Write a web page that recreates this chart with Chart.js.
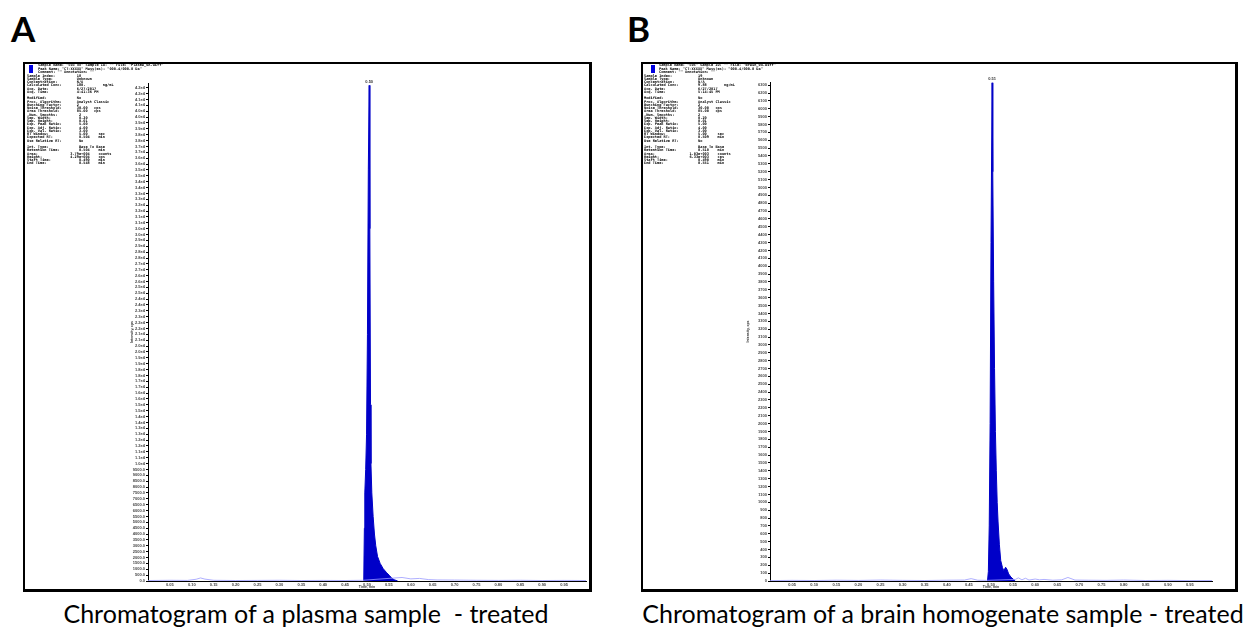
<!DOCTYPE html>
<html><head><meta charset="utf-8">
<script src="https://cdn.jsdelivr.net/npm/chart.js@4.4.0/dist/chart.umd.min.js"></script>
<style>
html,body{margin:0;padding:0;background:#fff;width:1246px;height:627px;overflow:hidden;position:relative;font-family:Lato,"Open Sans",sans-serif}
.panel{position:absolute;box-sizing:border-box;border:2px solid #000;border-right-width:3px;border-bottom-width:3px;background:#fff}
.panel canvas{position:absolute;left:0;top:0}
.hdr{position:absolute;margin:0;font-family:"DejaVu Sans Mono","Liberation Mono",monospace;font-weight:bold;font-size:3.6px;line-height:3.25px;color:#000;white-space:pre}
.mark{position:absolute;background:#0000e0}
.letter{position:absolute;font-weight:bold;font-size:35px;line-height:1;color:#000}
.cap{position:absolute;font-size:25px;line-height:1;color:#000;white-space:pre;text-align:center}
</style></head><body>

<div class="letter" style="left:11px;top:11px">A</div>
<div class="letter" style="left:627px;top:11px">B</div>

<div class="panel" id="pA" style="left:23px;top:62px;width:569px;height:530px">
<canvas id="cA" width="564" height="525"></canvas>
<div class="mark" style="left:4px;top:1px;width:4px;height:8px"></div>
<pre class="hdr" style="left:13px;top:0.4px">Sample Name: "S03 xx" Sample ID: "" File: "Plasma_0A.wiff"
Peak Name: "CT-XXXXX" Mass(es): "000.4/000.0 Da"
Comment: "" Annotation: ""</pre>
<pre class="hdr" style="left:2px;top:10.7px">Sample Index:          18
Sample Type:           Unknown
Concentration:         N/A
Calculated Conc:       180.        ng/mL
Acq. Date:             6/27/2017
Acq. Time:             4:41:36 PM

Modified:              No
Proc. Algorithm:       Analyst Classic
Bunching Factor:       2
Noise Threshold:       30.00   cps
Area Threshold:        85.00   cps
.Num. Smooths:          2
Sep. Width:             0.20
Sep. Height:            0.01
Exp. Peak Ratio:        5.00
Exp. Adj. Ratio:        4.00
Exp. Val. Ratio:        3.00
RT Window:              5.00     sec
Expected RT:            0.504    min
Use Relative RT:        No

Int. Type:              Base To Base
Retention Time:         0.504    min
Area:               3.79e+004    counts
Height:             4.29e+004    cps
Start Time:             0.490    min
End Time:               0.548    min</pre>
</div>

<div class="panel" id="pB" style="left:641px;top:62px;width:597px;height:530px">
<canvas id="cB" width="592" height="525"></canvas>
<div class="mark" style="left:8px;top:1px;width:4px;height:8px"></div>
<pre class="hdr" style="left:16px;top:0.4px">Sample Name: "S05" Sample ID: "" File: "Brain_0A.wiff"
Peak Name: "CT-XXXXX" Mass(es): "000.4/000.0 Da"
Comment: "" Annotation: ""</pre>
<pre class="hdr" style="left:1px;top:10.7px">Sample Index:            19
Sample Type:             Unknown
Concentration:           N/A
Calculated Conc:         9.88        ng/mL
Acq. Date:               6/27/2017
Acq. Time:               5:14:45 PM

Modified:                No
Proc. Algorithm:         Analyst Classic
Bunching Factor:         2
Noise Threshold:         30.00   cps
Area Threshold:          85.00   cps
.Num. Smooths:           2
Sep. Width:              0.20
Sep. Height:             0.01
Exp. Peak Ratio:         5.00
Exp. Adj. Ratio:         4.00
Exp. Val. Ratio:         3.00
RT Window:               5.00     sec
Expected RT:             0.509    min
Use Relative RT:         No

Int. Type:               Base To Base
Retention Time:          0.510    min
Area:                1.03e+003    counts
Height:              6.33e+003    cps
Start Time:              0.490    min
End Time:                0.551    min</pre>
</div>

<div class="cap" style="left:0px;top:601px;width:612px">Chromatogram of a plasma sample  - treated</div>
<div class="cap" style="left:636px;top:601px;width:614px">Chromatogram of a brain homogenate sample - treated</div>

<script>
// ---- Panel A (plasma) ----
const plasmaPeakTime      = [0.4925, 0.494, 0.495, 0.497, 0.499, 0.501, 0.503, 0.505, 0.5065, 0.508, 0.509, 0.511, 0.514, 0.517, 0.520, 0.524, 0.530, 0.537, 0.545, 0.551, 0.556, 0.562, 0.570];
const plasmaPeakIntensity = [0, 4500, 7500, 9500, 12500, 21000, 35000, 42200, 30000, 15000, 10000, 7500, 5500, 4000, 3000, 2100, 1500, 1050, 700, 480, 260, 110, 0];
const plasmaNoiseTime      = [0.00, 0.05, 0.09, 0.11, 0.12, 0.13, 0.15, 0.20, 0.25, 0.30, 0.35, 0.40, 0.45, 0.49, 0.56, 0.58, 0.60, 0.62, 0.64, 0.66, 0.70, 0.75, 0.80, 0.85, 0.90, 0.95, 1.00];
const plasmaNoiseIntensity = [40, 60, 50, 150, 260, 160, 60, 40, 50, 60, 40, 50, 40, 60, 250, 300, 180, 220, 120, 90, 80, 60, 50, 60, 40, 50, 40];
const plasmaYAxis = {min: 0, max: 42400, step: 500, last: 42000};
const plasmaPeakLabel = "0.50";

// ---- Panel B (brain homogenate) ----
const brainPeakTime      = [0.492, 0.494, 0.496, 0.498, 0.500, 0.5025, 0.504, 0.506, 0.508, 0.510, 0.512, 0.514, 0.516, 0.519, 0.522, 0.526, 0.529, 0.533, 0.536, 0.540, 0.545, 0.550, 0.555];
const brainPeakIntensity = [0, 120, 700, 2000, 4300, 6330, 5200, 3800, 2700, 1900, 1400, 1000, 750, 460, 260, 170, 130, 175, 150, 90, 50, 25, 0];
const brainNoiseTime      = [0.00, 0.05, 0.10, 0.15, 0.20, 0.25, 0.30, 0.35, 0.40, 0.44, 0.455, 0.47, 0.49, 0.555, 0.562, 0.570, 0.578, 0.586, 0.600, 0.610, 0.620, 0.640, 0.660, 0.674, 0.690, 0.720, 0.760, 0.800, 0.850, 0.900, 0.950, 1.000];
const brainNoiseIntensity = [5, 8, 6, 10, 7, 12, 8, 6, 10, 12, 30, 10, 8, 20, 40, 15, 35, 12, 25, 15, 20, 10, 15, 45, 12, 10, 8, 12, 6, 8, 5, 6];
const brainYAxis = {min: 0, max: 6340, step: 100, last: 6300};
const brainPeakLabel = "0.51";

// ---- shared x axis (Time, min) ----
const xTickLabels = ["0.05","0.10","0.15","0.20","0.25","0.30","0.35","0.40","0.45","0.50","0.55","0.60","0.65","0.70","0.75","0.80","0.85","0.90","0.95"];
const xRange = {min: 0, max: 1};

function pts(xs, ys){ return xs.map((x, i) => ({x: x, y: ys[i]})); }
function yTickValues(a){ const out = []; for (let v = a.min; v <= a.last + 1e-9; v += a.step) out.push(v); return out; }

const peakLabelPlugin = {
  id: 'peakLabel',
  afterDatasetsDraw(chart, args, opts){
    const ds = chart.data.datasets[1].data;
    let best = ds[0];
    ds.forEach(p => { if (p.y > best.y) best = p; });
    const ctx = chart.ctx;
    ctx.save();
    ctx.font = 'bold 4px "Liberation Sans"';
    ctx.fillStyle = '#333';
    ctx.textAlign = 'center';
    ctx.textBaseline = 'bottom';
    ctx.fillText(opts.text, chart.scales.x.getPixelForValue(best.x), chart.scales.y.getPixelForValue(best.y) - 1.5);
    ctx.restore();
  }
};

const tickFont = {size: 4, family: '"Liberation Sans", sans-serif', weight: 'bold'};
const titleFont = {size: 3.5, family: '"Liberation Sans", sans-serif', weight: 'bold'};

function makeChart(id, o){
  const yVals = yTickValues(o.ya);
  return new Chart(document.getElementById(id), {
    type: 'line',
    data: {datasets: [
      {data: pts(o.noiseT, o.noiseI), borderColor: '#9a9aff', borderWidth: 0.8, pointRadius: 0, fill: false, tension: 0},
      {data: pts(o.peakT, o.peakI), borderColor: '#0000c8', backgroundColor: '#0000c8', borderWidth: 1, pointRadius: 0, fill: 'origin', tension: 0}
    ]},
    options: {
      responsive: false, animation: false, events: [],
      layout: {padding: {left: o.padL, top: o.padT, right: o.padR, bottom: 0}},
      plugins: {legend: {display: false}, tooltip: {enabled: false}, peakLabel: {text: o.label}},
      scales: {
        x: {
          type: 'linear', min: xRange.min, max: xRange.max,
          afterFit(s){ s.height = 8; },
          afterBuildTicks(s){ s.ticks = xTickLabels.map(l => ({value: parseFloat(l)})); },
          ticks: {autoSkip: false, maxRotation: 0, padding: 0, font: tickFont, color: '#444',
            callback(v){ return v.toFixed(2); }},
          grid: {drawOnChartArea: false, tickLength: 1, color: '#000'},
          border: {color: '#000', width: 1},
          title: {display: true, text: 'Time, min', font: titleFont, color: '#333', padding: 0}
        },
        y: {
          type: 'linear', min: o.ya.min, max: o.ya.max,
          afterFit(s){ s.width = o.yW; },
          afterBuildTicks(s){ s.ticks = yVals.map(v => ({value: v})); },
          ticks: {autoSkip: false, padding: 1, font: tickFont, color: '#444', callback: o.fmt},
          grid: {drawOnChartArea: false, tickLength: 2, color: '#000'},
          border: {color: '#000', width: 1},
          title: {display: true, text: 'Intensity, cps', font: titleFont, color: '#333', padding: 0}
        }
      }
    },
    plugins: [peakLabelPlugin]
  });
}

makeChart('cA', {
  noiseT: plasmaNoiseTime, noiseI: plasmaNoiseIntensity, peakT: plasmaPeakTime, peakI: plasmaPeakIntensity,
  ya: plasmaYAxis, label: plasmaPeakLabel, padL: 105, padT: 19, padR: 3, yW: 18,
  fmt(v){ return v < 10000 ? v.toFixed(1) : v.toExponential(1).replace('e+', 'e'); }
});
makeChart('cB', {
  noiseT: brainNoiseTime, noiseI: brainNoiseIntensity, peakT: brainPeakTime, peakI: brainPeakIntensity,
  ya: brainYAxis, label: brainPeakLabel, padL: 103, padT: 18, padR: 23, yW: 24,
  fmt(v){ return String(Math.round(v)); }
});
</script>
</body></html>
